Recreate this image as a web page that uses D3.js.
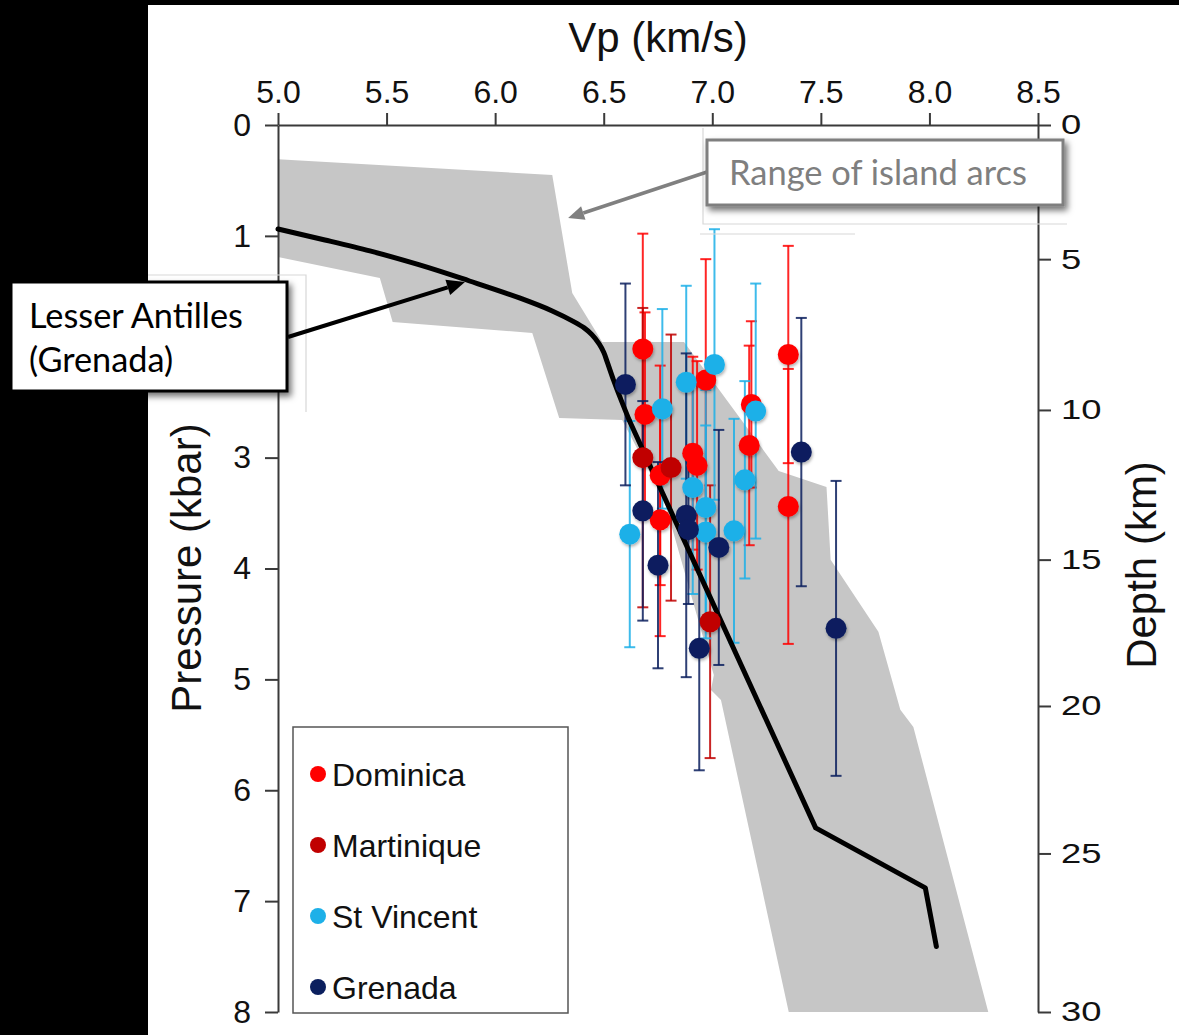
<!DOCTYPE html>
<html>
<head>
<meta charset="utf-8">
<script src="https://cdn.jsdelivr.net/npm/d3@7"></script>
<style>
  html, body { margin: 0; padding: 0; background: #000; }
  svg { display: block; }
</style>
</head>
<body>
<script>
// Axis ticks
const vpTicks = [5.0, 5.5, 6.0, 6.5, 7.0, 7.5, 8.0, 8.5];
const pressureTicks = [0, 1, 2, 3, 4, 5, 6, 7, 8];
const depthTicks = [0, 5, 10, 15, 20, 25, 30];
// pressure (kbar) reached at each depth tick
const depthPressure = [0, 1.21, 2.57, 3.92, 5.24, 6.57, 8.0];

// Legend / series
const islands = ["Dominica", "Martinique", "St Vincent", "Grenada"];
const islandColors = ["#ff0000", "#c00000", "#1db0e8", "#0b1f5e"];

// Vp (km/s), pressure (kbar) and pressure uncertainty (kbar) per sample
const dominicaVp  = [6.68, 6.69, 6.97, 7.18, 7.17, 7.35, 7.35, 6.91, 6.93, 6.76, 6.76];
const dominicaP   = [2.02, 2.61, 2.30, 2.52, 2.89, 2.07, 3.44, 2.96, 3.07, 3.56, 3.16];
const dominicaErr = [1.04, 0.92, 1.09, 0.75, 0.90, 0.98, 1.24, 0.87, 0.94, 1.05, 0.99];

const martiniqueVp  = [6.68, 6.81, 6.99];
const martiniqueP   = [3.00, 3.09, 4.48];
const martiniqueErr = [1.35, 1.20, 1.23];

const stVincentVp  = [6.77, 6.88, 7.01, 7.20, 7.15, 6.91, 6.97, 6.97, 7.10, 6.62];
const stVincentP   = [2.56, 2.32, 2.16, 2.58, 3.20, 3.27, 3.45, 3.67, 3.66, 3.69];
const stVincentErr = [0.90, 0.87, 1.22, 1.15, 0.89, 0.96, 1.06, 0.96, 1.01, 1.02];

const grenadaVp  = [6.60, 6.68, 6.75, 6.88, 6.89, 7.03, 6.94, 7.41, 7.57];
const grenadaP   = [2.34, 3.48, 3.97, 3.52, 3.65, 3.81, 4.72, 2.95, 4.54];
const grenadaErr = [0.91, 0.99, 0.93, 1.46, 0.67, 1.06, 1.10, 1.21, 1.33];

// Envelope of island-arc lower crust velocities
const arcRangeVp = [5.00, 6.263, 6.355, 6.493, 6.870, 7.306, 7.526, 7.545, 7.765, 7.866, 7.926, 8.271,
                    7.352, 7.040, 6.994, 7.007, 6.778, 6.585, 6.295, 6.171, 5.528, 5.469, 5.00];
const arcRangeP  = [0.31, 0.45, 1.515, 1.957, 1.957, 3.12, 3.264, 3.92, 4.57, 5.275, 5.43, 8.0,
                    8.0, 5.185, 5.095, 4.96, 3.38, 2.66, 2.642, 1.876, 1.776, 1.38, 1.19];

// Lesser Antilles (Grenada) velocity model: smooth upper crust, then linear segments
const modelUpperVp = [5.00, 5.216, 5.423, 5.652, 5.882, 6.112, 6.263, 6.364, 6.410, 6.445, 6.479, 6.500, 6.516, 6.545, 6.617];
const modelUpperP  = [0.938, 1.037, 1.136, 1.262, 1.407, 1.56, 1.677, 1.776, 1.830, 1.890, 1.975, 2.050, 2.137, 2.300, 2.66];
const modelLowerVp = [6.617, 7.476, 7.981, 8.032];
const modelLowerP  = [2.66, 6.339, 6.88, 7.41];

const W = 1179, H = 1035;
const font = "'Liberation Sans', Arial, Helvetica, sans-serif";
const noteFont = "Lato, 'Open Sans', sans-serif";

const svg = d3.select("body").append("svg")
  .attr("width", W).attr("height", H)
  .attr("viewBox", `0 0 ${W} ${H}`);

const defs = svg.append("defs");
const boxShadow = defs.append("filter").attr("id", "boxShadow")
  .attr("x", "-10%").attr("y", "-20%").attr("width", "130%").attr("height", "160%");
boxShadow.append("feDropShadow").attr("dx", 3).attr("dy", 4).attr("stdDeviation", 3)
  .attr("flood-color", "#000").attr("flood-opacity", 0.55);
const dotShadow = defs.append("filter").attr("id", "dotShadow")
  .attr("x", "-50%").attr("y", "-50%").attr("width", "200%").attr("height", "200%");
dotShadow.append("feDropShadow").attr("dx", 1).attr("dy", 2).attr("stdDeviation", 1.5)
  .attr("flood-color", "#000").attr("flood-opacity", 0.3);

// Background: black surround with white panel
svg.append("rect").attr("width", W).attr("height", H).attr("fill", "#000");
svg.append("rect").attr("x", 148).attr("y", 5).attr("width", W - 148).attr("height", H - 5).attr("fill", "#fff");

const x = d3.scaleLinear().domain([5.0, 8.5]).range([278, 1038]);
const y = d3.scaleLinear().domain([0, 8]).range([125, 1012]);
const depthToY = d3.scaleLinear().domain(depthTicks).range(depthPressure.map(p => y(p)));

// Island-arc envelope
const line = d3.line().x(d => x(d[0])).y(d => y(d[1]));
svg.append("path")
  .attr("d", line(d3.zip(arcRangeVp, arcRangeP)) + "Z")
  .attr("fill", "#c6c6c6");

// Axes
function styleAxis(g) {
  g.select(".domain").attr("stroke", "#3a3a3a").attr("stroke-width", 2);
  g.selectAll(".tick line").attr("stroke", "#3a3a3a").attr("stroke-width", 2);
  g.selectAll(".tick text").attr("fill", "#111").style("font-family", font);
}

const gTop = svg.append("g").attr("transform", `translate(0,${y(0)})`)
  .call(d3.axisTop(x).tickValues(vpTicks).tickFormat(d3.format(".1f")).tickSize(12).tickSizeOuter(0).tickPadding(10));
styleAxis(gTop);
gTop.selectAll(".tick text").style("font-size", "32px");

const gLeft = svg.append("g").attr("transform", `translate(${x(5.0)},0)`)
  .call(d3.axisLeft(y).tickValues(pressureTicks).tickFormat(d3.format("d")).tickSize(13).tickSizeOuter(0).tickPadding(14));
styleAxis(gLeft);
gLeft.selectAll(".tick text").style("font-size", "32px");

const gRight = svg.append("g").attr("transform", `translate(${x(8.5)},0)`)
  .call(d3.axisRight(depthToY).tickValues(depthTicks).tickFormat(d3.format("d")).tickSize(13).tickSizeOuter(0).tickPadding(10));
styleAxis(gRight);
gRight.selectAll(".tick text")
  .style("font-size", "28px")
  .attr("transform", function () { const tx = +d3.select(this).attr("x"); return `translate(${tx},0) scale(1.3,1)`; })
  .attr("x", 0);

// Axis titles
svg.append("text").attr("x", 658).attr("y", 52).attr("text-anchor", "middle")
  .style("font-family", font).style("font-size", "42px").attr("fill", "#111").text("Vp (km/s)");
svg.append("text").attr("transform", "translate(201,568) rotate(-90)").attr("text-anchor", "middle")
  .style("font-family", font).style("font-size", "42px").attr("fill", "#111").text("Pressure (kbar)");
svg.append("text").attr("transform", "translate(1156,565) rotate(-90)").attr("text-anchor", "middle")
  .style("font-family", font).style("font-size", "42px").attr("fill", "#111").text("Depth (km)");

// Error bars and samples
const series = [
  [dominicaVp, dominicaP, dominicaErr],
  [martiniqueVp, martiniqueP, martiniqueErr],
  [stVincentVp, stVincentP, stVincentErr],
  [grenadaVp, grenadaP, grenadaErr]
];
const samples = series.map((s, i) => s[0].map((v, j) => ({ vp: v, p: s[1][j], err: s[2][j], c: islandColors[i] })));

const gBars = svg.append("g");
samples.forEach(list => {
  list.forEach(d => {
    const cx = x(d.vp), y0 = y(d.p - d.err), y1 = y(d.p + d.err);
    gBars.append("line").attr("x1", cx).attr("x2", cx).attr("y1", y0).attr("y2", y1)
      .attr("stroke", d.c).attr("stroke-width", 2).attr("opacity", 0.85);
    [y0, y1].forEach(yy => gBars.append("line").attr("x1", cx - 5.5).attr("x2", cx + 5.5).attr("y1", yy).attr("y2", yy)
      .attr("stroke", d.c).attr("stroke-width", 2).attr("opacity", 0.85));
  });
});

// Model curve
const modelStyle = p => p.attr("fill", "none").attr("stroke", "#000").attr("stroke-width", 5)
  .attr("stroke-linejoin", "round").attr("stroke-linecap", "round");
svg.append("path")
  .attr("d", d3.line().x(d => x(d[0])).y(d => y(d[1])).curve(d3.curveMonotoneY)(d3.zip(modelUpperVp, modelUpperP)))
  .call(modelStyle);
svg.append("path")
  .attr("d", line(d3.zip(modelLowerVp, modelLowerP)))
  .call(modelStyle);

const gDots = svg.append("g").attr("filter", "url(#dotShadow)");
samples.forEach(list => {
  gDots.selectAll(null).data(list).enter().append("circle")
    .attr("cx", d => x(d.vp)).attr("cy", d => y(d.p)).attr("r", 10.5).attr("fill", d => d.c);
});

// Legend
const legend = svg.append("g");
legend.append("rect").attr("x", 293).attr("y", 727).attr("width", 275).attr("height", 286)
  .attr("fill", "#fff").attr("stroke", "#555").attr("stroke-width", 1.5);
const legendY = d3.scalePoint().domain(islands).range([774, 987]);
islands.forEach((name, i) => {
  legend.append("circle").attr("cx", 318).attr("cy", legendY(name)).attr("r", 8).attr("fill", islandColors[i]);
  legend.append("text").attr("x", 332).attr("y", legendY(name)).attr("dy", "0.36em")
    .style("font-family", font).style("font-size", "32px").attr("fill", "#111").text(name);
});

// Faint panel edges around the annotations
const faint = svg.append("g").attr("stroke", "#d8d8d8").attr("stroke-width", 1.2).attr("fill", "none");
faint.append("path").attr("d", "M148,275H306V412");
faint.append("path").attr("d", "M703,128V224H1067");
faint.append("path").attr("d", "M700,234H855");

// Arrow heads
function arrowHead(g, x1, y1, x2, y2, len, half, color) {
  const a = Math.atan2(y2 - y1, x2 - x1);
  const bx = x2 - len * Math.cos(a), by = y2 - len * Math.sin(a);
  const px = -Math.sin(a) * half, py = Math.cos(a) * half;
  g.append("path").attr("d", `M${x2},${y2}L${bx + px},${by + py}L${bx - px},${by - py}Z`).attr("fill", color);
  return [bx, by];
}

// Annotation: range of island arcs
const noteA = svg.append("g");
{
  const tx = x(6.336), ty = y(0.839);
  const [bx, by] = arrowHead(noteA, 707, 172, tx, ty, 16, 7, "#808080");
  noteA.append("line").attr("x1", 707).attr("y1", 172).attr("x2", bx).attr("y2", by)
    .attr("stroke", "#808080").attr("stroke-width", 3.5);
  noteA.append("rect").attr("x", 707).attr("y", 140).attr("width", 356).attr("height", 65)
    .attr("fill", "#fff").attr("stroke", "#7f7f7f").attr("stroke-width", 3).attr("filter", "url(#boxShadow)");
  const t = noteA.append("text").attr("x", 729).attr("y", 185)
    .style("font-family", noteFont).style("font-size", "30px").attr("fill", "#7f7f7f").text("Range of island arcs");
  const w = t.node().getComputedTextLength();
  t.style("font-size", (30 * 298 / w) + "px");
}

// Annotation: Lesser Antilles model
const noteB = svg.append("g");
{
  const tx = x(5.861), ty = y(1.416);
  const [bx, by] = arrowHead(noteB, 288, 337, tx, ty, 18, 8, "#000");
  noteB.append("line").attr("x1", 288).attr("y1", 337).attr("x2", bx).attr("y2", by)
    .attr("stroke", "#000").attr("stroke-width", 4);
  noteB.append("rect").attr("x", 11).attr("y", 282).attr("width", 276).attr("height", 109)
    .attr("fill", "#fff").attr("stroke", "#000").attr("stroke-width", 3).attr("filter", "url(#boxShadow)");
  const t1 = noteB.append("text").attr("x", 29).attr("y", 328)
    .style("font-family", noteFont).style("font-size", "30px").attr("fill", "#000").text("Lesser Antilles");
  const w = t1.node().getComputedTextLength();
  const fs = 30 * 214 / w;
  t1.style("font-size", fs + "px");
  noteB.append("text").attr("x", 29).attr("y", 372)
    .style("font-family", noteFont).style("font-size", fs + "px").attr("fill", "#000").text("(Grenada)");
}
</script>
</body>
</html>
